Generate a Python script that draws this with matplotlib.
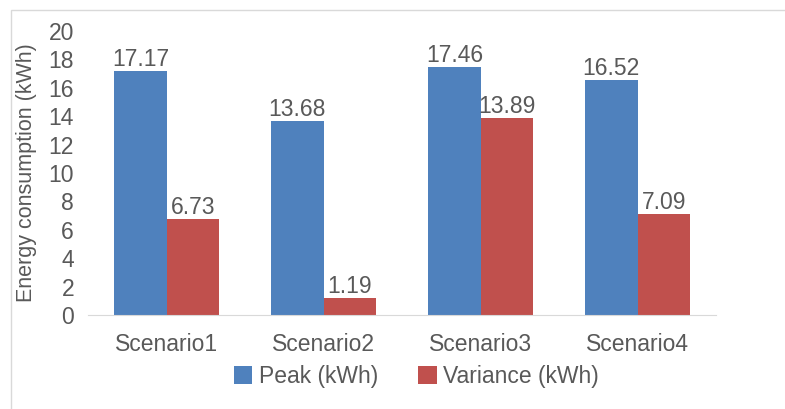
import matplotlib
matplotlib.use("Agg")
import matplotlib.pyplot as plt
from matplotlib.patches import Rectangle
import numpy as np

plt.rcParams["font.family"] = ["Liberation Sans", "DejaVu Sans"]

scenarios = ["Scenario1", "Scenario2", "Scenario3", "Scenario4"]
peak = [17.17, 13.68, 17.46, 16.52]
variance = [6.73, 1.19, 13.89, 7.09]

BLUE = "#4F81BD"
RED = "#C0504D"
TEXT = "#595959"
FS = 16.5

fig = plt.figure(figsize=(7.85, 4.09), dpi=100)
ax = fig.add_axes([88 / 785, 1 - 315 / 409, 628 / 785, 284 / 409])

# outer chart frame, clipped on the right and bottom
fig.patches.append(Rectangle((11 / 785, -0.1), 1.2, 1 - 10 / 409 + 0.1,
                             transform=fig.transFigure, fill=False,
                             edgecolor="#D9D9D9", linewidth=1.0))

x = np.arange(len(scenarios))
w = 0.333
b1 = ax.bar(x - w / 2, peak, w, color=BLUE, label="Peak (kWh)")
b2 = ax.bar(x + w / 2, variance, w, color=RED, label="Variance (kWh)")

for bars, vals in ((b1, peak), (b2, variance)):
    for r, v in zip(bars, vals):
        ax.annotate(f"{v:.2f}", (r.get_x() + r.get_width() / 2, v),
                    xytext=(0, 0), textcoords="offset points",
                    ha="center", va="bottom", fontsize=FS, color=TEXT)

ax.set_xlim(-0.5, 3.5)
ax.set_ylim(0, 20)
ax.set_yticks(range(0, 21, 2))
ax.set_xticks(x)
ax.set_xticklabels(scenarios)
ax.tick_params(axis="both", length=0, labelsize=FS, labelcolor=TEXT)
ax.tick_params(axis="x", pad=13)
ax.tick_params(axis="y", pad=10)
for s in ("top", "right", "left"):
    ax.spines[s].set_visible(False)
ax.spines["bottom"].set_color("#D9D9D9")
ax.set_ylabel("Energy consumption (kWh)", fontsize=15.5, color=TEXT, labelpad=8)

ax.legend(loc="upper center", bbox_to_anchor=(0.523, -0.135), ncol=2, frameon=False,
          fontsize=FS, labelcolor=TEXT, handlelength=0.8, handleheight=0.8,
          handletextpad=0.3, columnspacing=1.75, borderpad=0.0)

fig.savefig("out.png", dpi=100)
